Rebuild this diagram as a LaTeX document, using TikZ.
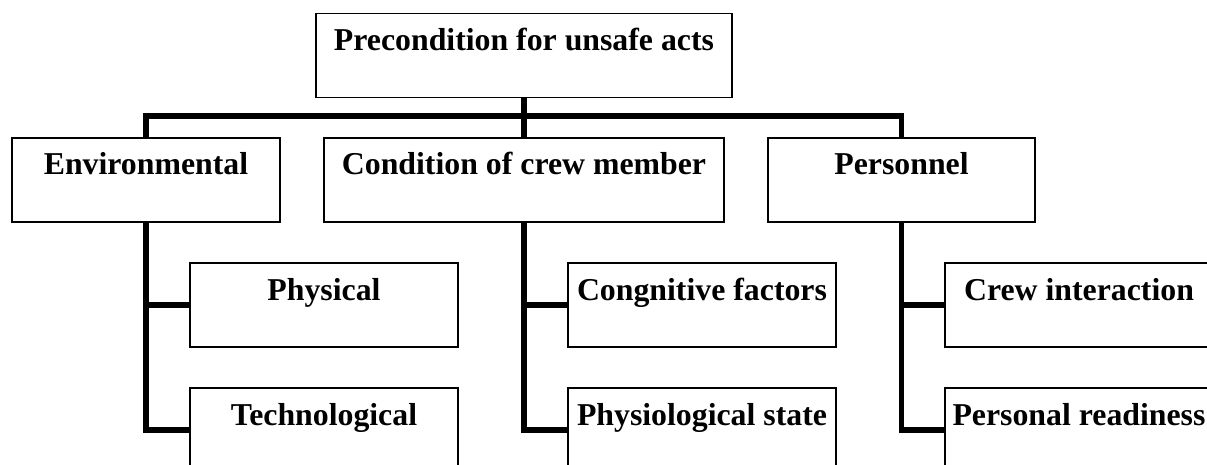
\documentclass[tikz,border=0pt]{standalone}
\usepackage{fontspec}
\setmainfont{Liberation Serif}
\usepackage{tikz}
\begin{document}
\begin{tikzpicture}[x=1pt,y=-1pt,line join=miter,
  box/.style={draw,line width=1.5pt,inner xsep=0pt,inner ysep=0pt,minimum height=84pt,
    text height=37pt,text depth=47pt,font=\bfseries\fontsize{31.8}{36}\selectfont},
  conn/.style={line width=5.5pt}]
\useasboundingbox (0,0) rectangle (1207,465);
\clip (0,0) rectangle (1207,465);
\node[box,minimum width=416pt] (pre) at (524,55.3) {Precondition for unsafe acts};
\node[box,minimum width=268pt] (env) at (146,180) {Environmental};
\node[box,minimum width=400pt] (cond) at (524,180) {Condition of crew member};
\node[box,minimum width=267pt] (pers) at (901.5,180) {Personnel};
\node[box,minimum width=268pt] (phys) at (324,305) {Physical};
\node[box,minimum width=268pt] (tech) at (324,430) {Technological};
\node[box,minimum width=268pt] (cogn) at (702,305) {Congnitive factors};
\node[box,minimum width=268pt] (physio) at (702,430) {Physiological state};
\node[box,minimum width=268pt] (crew) at (1079,305) {Crew interaction};
\node[box,minimum width=268pt] (ready) at (1079,430) {Personal readiness};
\draw[conn] (pre.south) -- (cond.north);
\draw[conn] (env.north) -- ++(0,-21) -| (pers.north);
\draw[conn] (env.south) |- (tech.west);
\draw[conn] (phys.west) -- (phys.west -| env.south);
\draw[conn] (cond.south) |- (physio.west);
\draw[conn] (cogn.west) -- (cogn.west -| cond.south);
\draw[conn] (pers.south) |- (ready.west);
\draw[conn] (crew.west) -- (crew.west -| pers.south);
\end{tikzpicture}
\end{document}
